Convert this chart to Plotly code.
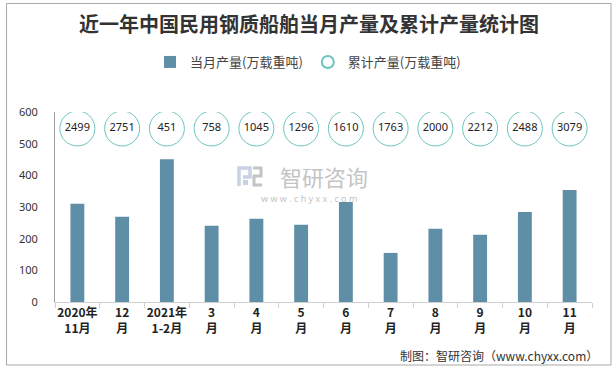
import plotly.graph_objects as go

categories = ["2020年<br>11月", "12<br>月", "2021年<br>1-2月", "3<br>月", "4<br>月", "5<br>月",
              "6<br>月", "7<br>月", "8<br>月", "9<br>月", "10<br>月", "11<br>月"]
monthly = [310, 269, 451, 241, 263, 244, 316, 155, 231, 212, 284, 354]
cumulative = [2499, 2751, 451, 758, 1045, 1296, 1610, 1763, 2000, 2212, 2488, 3079]
bubble_level = [548] * len(categories)

# plot area in pixels: x 55..592, y 112..302
L, R, T, B = 55, 592, 112, 302
PW, PH = R - L, B - T


def px(x):
    return (x - L) / PW


def py(y):
    return (B - y) / PH


fig = go.Figure()
fig.add_trace(go.Bar(
    x=categories, y=monthly, name="当月产量(万载重吨)",
    marker=dict(color="#5E8FA7", line=dict(width=0)), width=0.31,
))
fig.add_trace(go.Scatter(
    x=categories, y=bubble_level, name="累计产量(万载重吨)",
    mode="markers+text", text=[str(v) for v in cumulative], textposition="middle center",
    textfont=dict(size=11, color="#222222", family="Noto Sans"),
    marker=dict(symbol="circle", size=35, color="white", line=dict(color="#6CC4BF", width=1)),
))

logo_blue = "#C9D1E4"
logo_gray = "#C4C4C4"
shapes = [
    dict(type="rect", xref="paper", yref="paper", x0=px(6.5), x1=px(611), y0=py(365), y1=py(3.5),
         line=dict(color="#A8A8A8", width=1), fillcolor="rgba(0,0,0,0)", layer="below"),
    # watermark logo (rough)
    dict(type="path", xref="paper", yref="paper", layer="below",
         path=f"M {px(239)} {py(186)} L {px(239)} {py(168)} L {px(250)} {py(168)} L {px(250)} {py(177)} L {px(243)} {py(177)}",
         line=dict(color=logo_blue, width=3.5)),
    dict(type="path", xref="paper", yref="paper", layer="below",
         path=f"M {px(253)} {py(168)} L {px(261)} {py(168)} L {px(261)} {py(176)} L {px(254)} {py(176)} L {px(254)} {py(185)} L {px(262)} {py(185)}",
         line=dict(color=logo_gray, width=3)),
    dict(type="rect", xref="paper", yref="paper", layer="below",
         x0=px(243), x1=px(248), y0=py(185), y1=py(180), line=dict(width=0), fillcolor=logo_blue),
]

fig.update_layout(
    width=616, height=370,
    margin=dict(l=L, r=616 - R, t=T, b=370 - B, autoexpand=False),
    paper_bgcolor="white", plot_bgcolor="white",
    font=dict(family="Noto Sans CJK SC", color="#333333"),
    title=dict(text="<b>近一年中国民用钢质船舶当月产量及累计产量统计图</b>",
               x=309 / 616, xanchor="center", y=1 - 25 / 370, yanchor="middle",
               font=dict(size=20, color="#333333", family="Noto Sans CJK SC")),
    legend=dict(orientation="h", x=px(308), xanchor="center", y=py(62), yanchor="middle",
                font=dict(size=13, color="#444444"), itemsizing="constant",
                traceorder="normal", bgcolor="rgba(0,0,0,0)"),
    showlegend=True,
    bargap=0.69,
    xaxis=dict(range=[-0.5, len(categories) - 0.5], autorange=False,
               showline=True, linecolor="#D0D0D0", linewidth=1, ticks="outside",
               tickson="boundaries", ticklen=5, tickcolor="#D0D0D0", tickangle=0,
               automargin=False,
               tickfont=dict(size=12, color="#222222", family="Noto Sans CJK SC", weight="bold"),
               showgrid=False, fixedrange=True),
    yaxis=dict(range=[0, 600], dtick=100, showline=True, linecolor="#A0A0A0", linewidth=1,
               showgrid=False, zeroline=False, ticks="", ticklabelstandoff=14, automargin=False,
               tickfont=dict(size=11, color="#333333", family="Noto Sans")),
    shapes=shapes,
    annotations=[
        dict(text="智研咨询", xref="paper", yref="paper", x=px(324), y=py(176),
             xanchor="center", yanchor="middle", showarrow=False,
             font=dict(size=22, color="#C4C4C4", family="Noto Sans CJK SC")),
        dict(text="w w w . c h y x x . c o m", xref="paper", yref="paper", x=px(309), y=py(198),
             xanchor="center", yanchor="middle", showarrow=False,
             font=dict(size=9, color="#C4C4C4", family="Noto Sans")),
        dict(text="制图：智研咨询（www.chyxx.com）", xref="paper", yref="paper", x=px(600), y=py(355),
             xanchor="right", yanchor="middle", showarrow=False,
             font=dict(size=12, color="#333333", family="Noto Sans CJK SC")),
    ],
)

fig.write_html("out.html", config={"displayModeBar": False},
               post_script="document.body.style.margin='0';")
